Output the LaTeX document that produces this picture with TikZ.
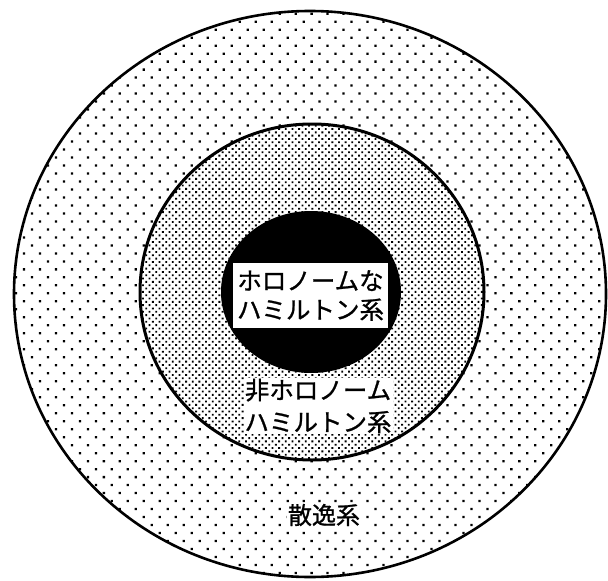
\documentclass[tikz,border=0pt]{standalone}
\usepackage{fontspec}
\newfontfamily\jp[FakeBold=1]{Noto Sans CJK JP}
\usetikzlibrary{patterns.meta}
\begin{document}
\begin{tikzpicture}[x=1pt,y=-1pt,
  ring/.style={line width=2.6pt},
  sparse/.style={preaction={fill=white}, pattern={Dots[distance=11.3pt,radius=1.6pt,angle=45]}},
  dense/.style={preaction={fill=white}, pattern={Dots[distance=4.7pt,radius=1.3pt,angle=45]}},
  lbl/.style={font=\jp\fontsize{24.5}{29}\selectfont, align=center, inner sep=1pt}]
\useasboundingbox[fill=white] (0,0) rectangle (608,581);
% outer region: dissipative systems
\path[sparse] (310,294) ellipse [x radius=296, y radius=283];
\draw[ring] (310,294) ellipse [x radius=296, y radius=283];
% middle region: nonholonomic Hamiltonian systems
\path[dense] (312,292) ellipse [x radius=172, y radius=168];
\draw[ring, line width=3pt] (312,292) ellipse [x radius=172, y radius=168];
% inner region: holonomic Hamiltonian systems
\fill[black] (311,292) ellipse [x radius=90, y radius=81];
\node[lbl, fill=white, minimum width=155, minimum height=65] (holo) at (310.5,295.5) {ホロノームな\\ハミルトン系};
\node[lbl, fill=white, font=\jp\fontsize{24.5}{32}\selectfont] (nonholo) at (318,406) {非ホロノーム\\ハミルトン系};
\node[lbl, fill=white, font=\jp\fontsize{24}{28}\selectfont] (diss) at (324,515) {散逸系};
\end{tikzpicture}
\end{document}
